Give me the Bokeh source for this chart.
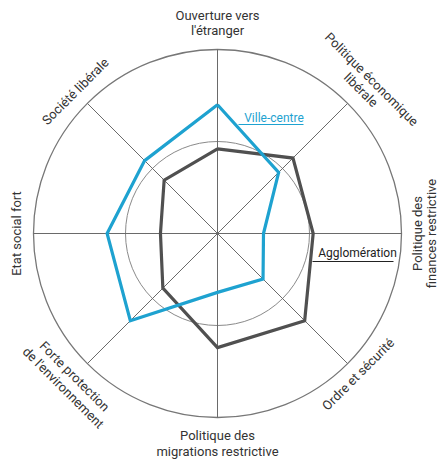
import math
from bokeh.plotting import figure
from bokeh.models import Range1d, ColumnDataSource
from bokeh.core.properties import value
from bokeh.embed import file_html
from bokeh.resources import INLINE

# ---------------- data ----------------
axes_labels = [
    ["Ouverture vers", "l'étranger"],
    ["Politique économique", "libérale"],
    ["Politique des", "finances restrictive"],
    ["Ordre et sécurité"],
    ["Politique des", "migrations restrictive"],
    ["Forte protection", "de l'environnement"],
    ["Etat social fort"],
    ["Société libérale"],
]
ville_centre = [70, 47, 25, 35, 32, 67, 60, 56]
agglomeration = [46, 58, 52, 67, 62, 42, 31, 41]
series_names = ["Ville-centre", "Agglomération"]
max_value = 100
inner_value = 50

# ---------------- styling ----------------
R = 184.0            # outer radius (px)
k = R / max_value
BLUE = "#1ea2d0"
DARK = "#505050"
TEXT = "#333333"
FONT = "Roboto"

p = figure(width=439, height=467, output_backend="svg", toolbar_location=None,
           x_range=Range1d(-217, 222), y_range=Range1d(-234, 233),
           min_border=0)
p.xaxis.visible = False
p.yaxis.visible = False
p.grid.visible = False
p.outline_line_color = None
p.background_fill_color = "white"
p.border_fill_color = "white"

n = len(axes_labels)
thetas = [2 * math.pi * i / n for i in range(n)]

# circles
p.circle(x=[0], y=[0], radius=[inner_value * k], fill_color=None,
         line_color="#8a8a8a", line_width=1)
p.circle(x=[0], y=[0], radius=[max_value * k], fill_color=None,
         line_color="#777777", line_width=1.3)

# spokes
p.segment(x0=[0] * n, y0=[0] * n,
          x1=[max_value * k * math.sin(t) for t in thetas],
          y1=[max_value * k * math.cos(t) for t in thetas],
          line_color="#6a6a6a", line_width=1)


def poly(vals):
    xs = [v * k * math.sin(t) for v, t in zip(vals, thetas)]
    ys = [v * k * math.cos(t) for v, t in zip(vals, thetas)]
    return xs + xs[:1], ys + ys[:1]


for vals, col in ((agglomeration, DARK), (ville_centre, BLUE)):
    xs, ys = poly(vals)
    p.line(xs, ys, line_color=col, line_width=3.2, line_join="miter")

# axis labels (tangential)
lx, ly, lt, la = [], [], [], []
for t, lines in zip(thetas, axes_labels):
    deg = math.degrees(t) % 360
    flipped = 60 < deg < 260
    ang = -t + (math.pi if flipped else 0)
    if flipped:
        radii = [199] if len(lines) == 1 else [202, 218]
        if abs(deg - 90) < 1:
            radii = [200, 214]
    else:
        radii = [201] if len(lines) == 1 else [218, 203]
    for txt, r in zip(lines, radii):
        lx.append(r * math.sin(t))
        ly.append(r * math.cos(t))
        lt.append(txt)
        la.append(ang)
src = ColumnDataSource(dict(x=lx, y=ly, text=lt, angle=la))
p.text(x="x", y="y", text="text", angle="angle", source=src,
       text_font=value(FONT), text_font_size="13px", text_color=TEXT,
       text_align="center", text_baseline="middle")

# series labels with leader underlines
p.text(x=[56.5], y=[116], text=[series_names[0]], text_font=value(FONT),
       text_font_size="12px", text_color=BLUE, text_align="center",
       text_baseline="middle")
p.segment(x0=[21], y0=[109], x1=[86], y1=[109], line_color=BLUE, line_width=1.2)
p.text(x=[140], y=[-19], text=[series_names[1]], text_font=value(FONT),
       text_font_size="12px", text_color="#222222", text_align="center",
       text_baseline="middle")
p.segment(x0=[95], y0=[-28], x1=[176], y1=[-28], line_color="#222222", line_width=1.2)

open("out.html", "w").write(file_html(p, INLINE))
